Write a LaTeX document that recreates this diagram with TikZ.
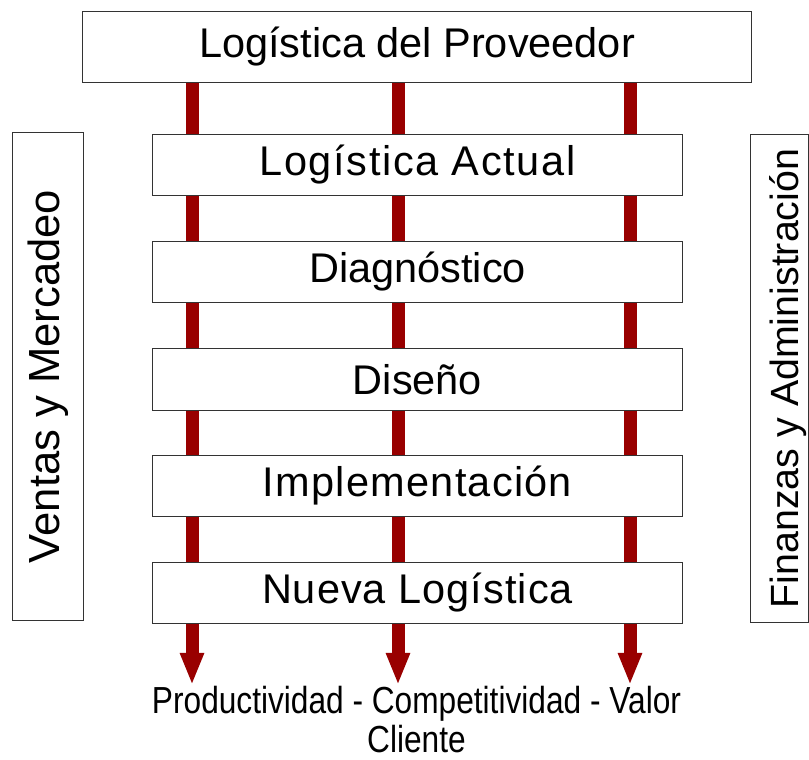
\documentclass[tikz,border=0pt]{standalone}
\usepackage{fontspec}
\setmainfont{Liberation Sans}
\newfontfamily\narrowfont[FakeStretch=0.84]{Liberation Sans}
\newfontfamily\wideA[LetterSpace=4]{Liberation Sans}
\newfontfamily\wideB[LetterSpace=3]{Liberation Sans}
\newfontfamily\wideC[LetterSpace=2.5]{Liberation Sans}
\usetikzlibrary{arrows.meta, positioning, backgrounds}
\definecolor{flowred}{RGB}{153,0,0}

\begin{document}
\begin{tikzpicture}[x=0.025cm,y=-0.025cm,
  stagebox/.style={draw=black!80,line width=0.7pt,fill=white,inner sep=0pt,minimum width=13.225cm,minimum height=1.525cm,font=\fontsize{29.5}{34}\selectfont},
  sidebox/.style={draw=black!80,line width=0.7pt,fill=white,inner sep=0pt,rotate=90,minimum width=12.175cm},
  flow/.style={line width=0.325cm,color=flowred,-{Triangle[width=0.55cm,length=0.8cm]}}]
\useasboundingbox (0,0) rectangle (809,760);
%top box
\node[stagebox,minimum width=16.7cm,minimum height=1.75cm] (prov) at (417,47) {Log\'istica del Proveedor};
%stages
\node[stagebox] (actual) at (417.5,165) {\wideA Log\'istica Actual};
\node[stagebox] (diag) at (417.5,272) {Diagn\'ostico};
\node[stagebox] (dis) at (417.5,379.5) {Dise\~no};
\node[stagebox] (impl) at (417.5,486) {\wideB Implementaci\'on};
\node[stagebox] (nueva) at (417.5,593) {\wideC Nueva Log\'istica};
%side boxes
\node[sidebox,minimum height=1.75cm,font=\fontsize{31}{36}\selectfont] (ventas) at (48,376.5) {Ventas y Mercadeo};
\node[sidebox,minimum height=1.45cm,text height=1.17cm,text depth=0.21cm,font=\fontsize{28}{33}\selectfont] (finanzas) at (779,378.5) {Finanzas y Administraci\'on};
%result
\node[font=\narrowfont\fontsize{26.8}{27.7}\selectfont,align=center,anchor=base,inner sep=0pt] (result) at (416.5,752) {Productividad - Competitividad - Valor\\Cliente};
%arrow tips
\coordinate (tipA) at (192,685);
\coordinate (tipB) at (398,685);
\coordinate (tipC) at (630,685);
%arrows behind the boxes
\begin{scope}[on background layer]
\draw[flow] (prov.south -| tipA) -- (tipA);
\draw[flow] (prov.south -| tipB) -- (tipB);
\draw[flow] (prov.south -| tipC) -- (tipC);
\end{scope}
\end{tikzpicture}
\end{document}
